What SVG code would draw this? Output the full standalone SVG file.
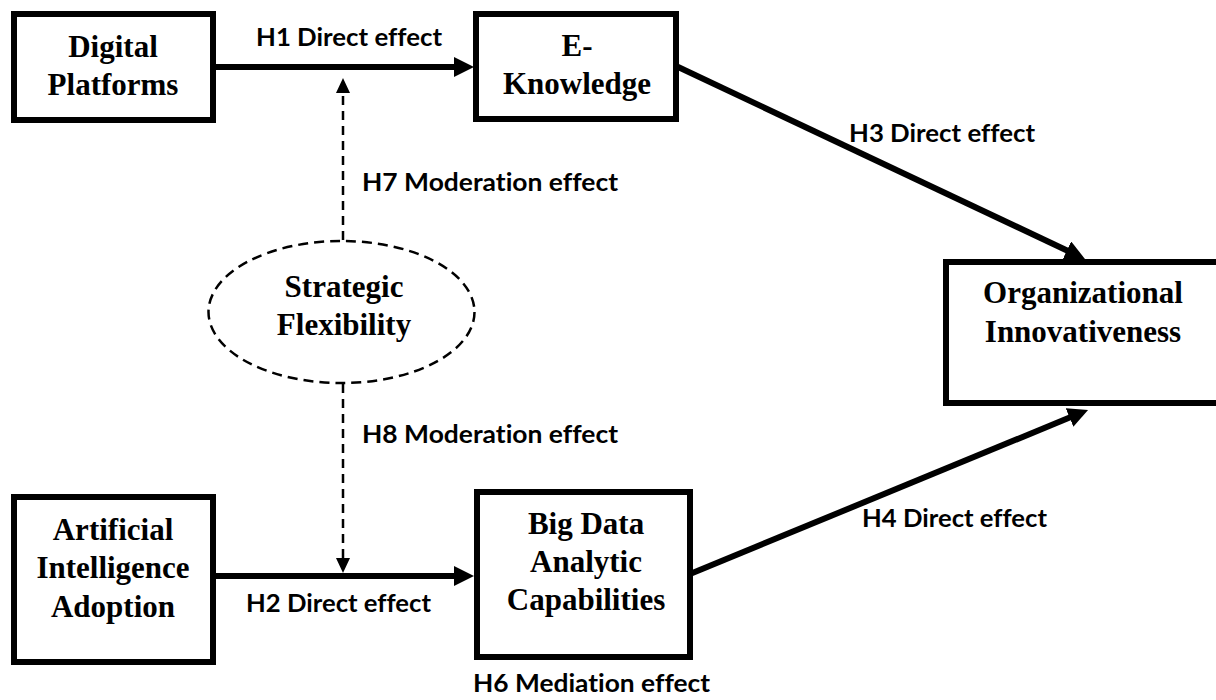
<svg xmlns="http://www.w3.org/2000/svg" width="1216" height="700" viewBox="0 0 1216 700">
<style>
.box{fill:#fff;stroke:#000;stroke-width:6}
.node{font-family:"Liberation Serif","Times New Roman",serif;font-weight:bold;font-size:31px;fill:#000;text-anchor:middle}
.lbl{font-family:"Lato","Open Sans","Liberation Sans",sans-serif;font-weight:bold;font-size:25px;fill:#000;font-variant-ligatures:none}
.solid{stroke:#000;stroke-width:6;fill:none;marker-end:url(#ah)}
.dash{stroke:#000;stroke-width:2.5;fill:none;stroke-dasharray:9 6;marker-end:url(#ahs)}
</style>
<defs>
<marker id="ah" markerUnits="userSpaceOnUse" markerWidth="20" markerHeight="20" refX="6" refY="10" orient="auto">
<path d="M0,0 L20,10 L0,20 z" fill="#000"/>
</marker>
<marker id="ahs" markerUnits="userSpaceOnUse" markerWidth="15" markerHeight="14" refX="5" refY="7" orient="auto">
<path d="M0,0 L15,7 L0,14 z" fill="#000"/>
</marker>
</defs>
<rect width="1216" height="700" fill="#fff"/>
<g id="connectors">
<line class="solid" x1="213" y1="67" x2="460" y2="67"/>
<line class="solid" x1="213" y1="576" x2="460" y2="576"/>
<line class="solid" x1="676" y1="66" x2="1072.3" y2="253"/>
<line class="solid" x1="690" y1="574" x2="1075.1" y2="415.3"/>
<line class="dash" x1="343" y1="240" x2="343" y2="88"/>
<line class="dash" x1="343" y1="384" x2="343" y2="563"/>
<text class="lbl" x="256" y="46" textLength="186" lengthAdjust="spacingAndGlyphs">H1 Direct effect</text>
<text class="lbl" x="246" y="612" textLength="185" lengthAdjust="spacingAndGlyphs">H2 Direct effect</text>
<text class="lbl" x="849" y="142" textLength="186" lengthAdjust="spacingAndGlyphs">H3 Direct effect</text>
<text class="lbl" x="862" y="527" textLength="185" lengthAdjust="spacingAndGlyphs">H4 Direct effect</text>
<text class="lbl" x="473" y="692" textLength="237" lengthAdjust="spacingAndGlyphs">H6 Mediation effect</text>
<text class="lbl" x="362" y="191" textLength="256" lengthAdjust="spacingAndGlyphs">H7 Moderation effect</text>
<text class="lbl" x="362" y="443" textLength="256" lengthAdjust="spacingAndGlyphs">H8 Moderation effect</text>
</g>
<g id="digital-platforms">
<rect class="box" x="14" y="14" width="199" height="106"/>
<text class="node" x="113" y="57">Digital</text>
<text class="node" x="113" y="95">Platforms</text>
</g>
<g id="e-knowledge">
<rect class="box" x="476" y="14" width="200" height="105"/>
<text class="node" x="577" y="56">E-</text>
<text class="node" x="577" y="94">Knowledge</text>
</g>
<g id="strategic-flexibility">
<ellipse cx="341.5" cy="312" rx="133" ry="71" fill="#fff" stroke="#000" stroke-width="2.5" stroke-dasharray="10 6"/>
<text class="node" x="344" y="297">Strategic</text>
<text class="node" x="344" y="335">Flexibility</text>
</g>
<g id="ai-adoption">
<rect class="box" x="14" y="497" width="199" height="165"/>
<text class="node" x="113" y="540">Artificial</text>
<text class="node" x="113" y="578">Intelligence</text>
<text class="node" x="113" y="617">Adoption</text>
</g>
<g id="big-data">
<rect class="box" x="477" y="492" width="213" height="165"/>
<text class="node" x="586" y="534">Big Data</text>
<text class="node" x="586" y="572">Analytic</text>
<text class="node" x="586" y="610">Capabilities</text>
</g>
<g id="organizational-innovativeness">
<rect class="box" x="946" y="262" width="280" height="141"/>
<text class="node" x="1083" y="303">Organizational</text>
<text class="node" x="1083" y="342">Innovativeness</text>
</g>
</svg>
